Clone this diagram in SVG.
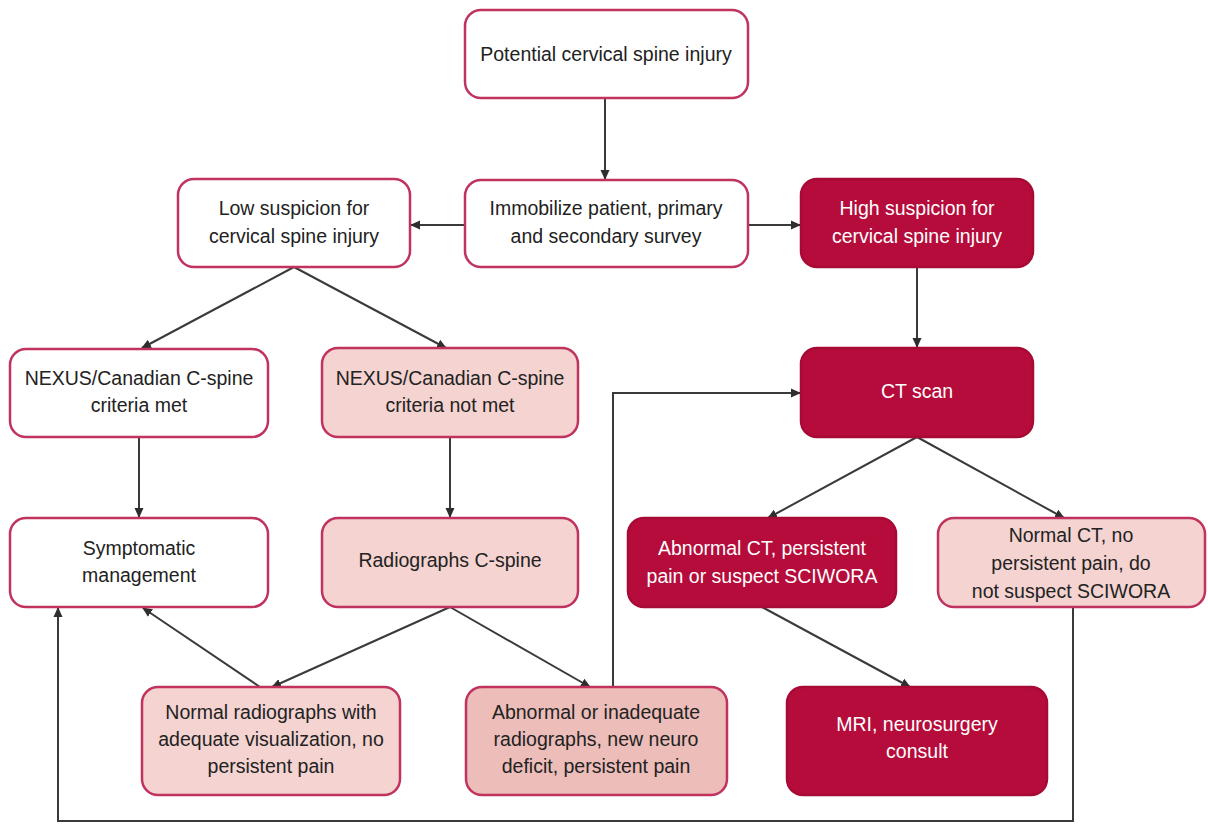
<svg xmlns="http://www.w3.org/2000/svg" width="1208" height="824" viewBox="0 0 1208 824">
  <style>
    .box { stroke: #c0335e; stroke-width: 2.5; }
    .plain { fill: #ffffff; }
    .light { fill: #f4d3d1; }
    .mid { fill: #ecbdb9; }
    .dark { fill: #b50c3b; stroke: #a80a36; }
    text { font-family: "Liberation Sans", Arial, sans-serif; font-size: 19.5px; text-anchor: middle; fill: #222222; }
    text.inv { fill: #ffffff; }
    .link { fill: none; stroke: #3a3a3a; stroke-width: 2; }
  </style>
  <defs>
    <marker id="arrow" viewBox="0 0 10 10" refX="9" refY="5" markerWidth="10" markerHeight="10" markerUnits="userSpaceOnUse" orient="auto">
      <path d="M0,0.5 L10,5 L0,9.5 z" fill="#2e2e2e"/>
    </marker>
  </defs>

  <rect width="1208" height="824" fill="#ffffff"/>

  <!-- connectors -->
  <g id="connectors">
    <line class="link" x1="605" y1="98" x2="605" y2="179" marker-end="url(#arrow)"/>
    <line class="link" x1="465" y1="225" x2="411" y2="225" marker-end="url(#arrow)"/>
    <line class="link" x1="748" y1="225" x2="800" y2="225" marker-end="url(#arrow)"/>
    <line class="link" x1="294" y1="267" x2="142" y2="348" marker-end="url(#arrow)"/>
    <line class="link" x1="294" y1="267" x2="446" y2="348" marker-end="url(#arrow)"/>
    <line class="link" x1="917" y1="267" x2="917" y2="347" marker-end="url(#arrow)"/>
    <line class="link" x1="139" y1="437" x2="139" y2="517" marker-end="url(#arrow)"/>
    <line class="link" x1="450" y1="437" x2="450" y2="517" marker-end="url(#arrow)"/>
    <line class="link" x1="917" y1="437" x2="768" y2="518" marker-end="url(#arrow)"/>
    <line class="link" x1="917" y1="437" x2="1064" y2="518" marker-end="url(#arrow)"/>
    <line class="link" x1="450" y1="607" x2="272" y2="687" marker-end="url(#arrow)"/>
    <line class="link" x1="450" y1="607" x2="590" y2="687" marker-end="url(#arrow)"/>
    <line class="link" x1="260" y1="687" x2="143" y2="608" marker-end="url(#arrow)"/>
    <line class="link" x1="762" y1="607" x2="910" y2="687" marker-end="url(#arrow)"/>
    <polyline class="link" points="613,687 613,393 800,393" marker-end="url(#arrow)"/>
    <polyline class="link" points="1073,607 1073,821 58,821 58,608" marker-end="url(#arrow)"/>
  </g>

  <g id="potential">
    <rect class="box plain" x="465" y="10" width="283" height="88" rx="16"/>
    <text x="606" y="61">Potential cervical spine injury</text>
  </g>

  <g id="immobilize">
    <rect class="box plain" x="465" y="180" width="283" height="87" rx="16"/>
    <text x="606" y="215">Immobilize patient, primary</text>
    <text x="606" y="243">and secondary survey</text>
  </g>

  <g id="low-suspicion">
    <rect class="box plain" x="178" y="179" width="232" height="88" rx="16"/>
    <text x="294" y="215">Low suspicion for</text>
    <text x="294" y="243">cervical spine injury</text>
  </g>

  <g id="high-suspicion">
    <rect class="box dark" x="801" y="179" width="232" height="88" rx="16"/>
    <text class="inv" x="917" y="215">High suspicion for</text>
    <text class="inv" x="917" y="243">cervical spine injury</text>
  </g>

  <g id="nexus-met">
    <rect class="box plain" x="10" y="349" width="258" height="88" rx="16"/>
    <text x="139" y="385">NEXUS/Canadian C-spine</text>
    <text x="139" y="412">criteria met</text>
  </g>

  <g id="nexus-not-met">
    <rect class="box light" x="322" y="348" width="256" height="89" rx="16"/>
    <text x="450" y="385">NEXUS/Canadian C-spine</text>
    <text x="450" y="412">criteria not met</text>
  </g>

  <g id="ct-scan">
    <rect class="box dark" x="801" y="348" width="232" height="89" rx="16"/>
    <text class="inv" x="917" y="398">CT scan</text>
  </g>

  <g id="symptomatic">
    <rect class="box plain" x="10" y="518" width="258" height="89" rx="16"/>
    <text x="139" y="555">Symptomatic</text>
    <text x="139" y="582">management</text>
  </g>

  <g id="radiographs">
    <rect class="box light" x="322" y="518" width="256" height="89" rx="16"/>
    <text x="450" y="567">Radiographs C-spine</text>
  </g>

  <g id="abnormal-ct">
    <rect class="box dark" x="628" y="518" width="268" height="89" rx="16"/>
    <text class="inv" x="762" y="555">Abnormal CT, persistent</text>
    <text class="inv" x="762" y="583">pain or suspect SCIWORA</text>
  </g>

  <g id="normal-ct">
    <rect class="box light" x="938" y="518" width="267" height="89" rx="16"/>
    <text x="1071" y="542">Normal CT, no</text>
    <text x="1071" y="570">persistent pain, do</text>
    <text x="1071" y="598">not suspect SCIWORA</text>
  </g>

  <g id="normal-radiographs">
    <rect class="box light" x="142" y="687" width="258" height="108" rx="16"/>
    <text x="271" y="719">Normal radiographs with</text>
    <text x="271" y="746">adequate visualization, no</text>
    <text x="271" y="773">persistent pain</text>
  </g>

  <g id="abnormal-radiographs">
    <rect class="box mid" x="466" y="687" width="261" height="108" rx="16"/>
    <text x="596" y="719">Abnormal or inadequate</text>
    <text x="596" y="746">radiographs, new neuro</text>
    <text x="596" y="773">deficit, persistent pain</text>
  </g>

  <g id="mri">
    <rect class="box dark" x="787" y="687" width="260" height="108" rx="16"/>
    <text class="inv" x="917" y="731">MRI, neurosurgery</text>
    <text class="inv" x="917" y="758">consult</text>
  </g>
</svg>
